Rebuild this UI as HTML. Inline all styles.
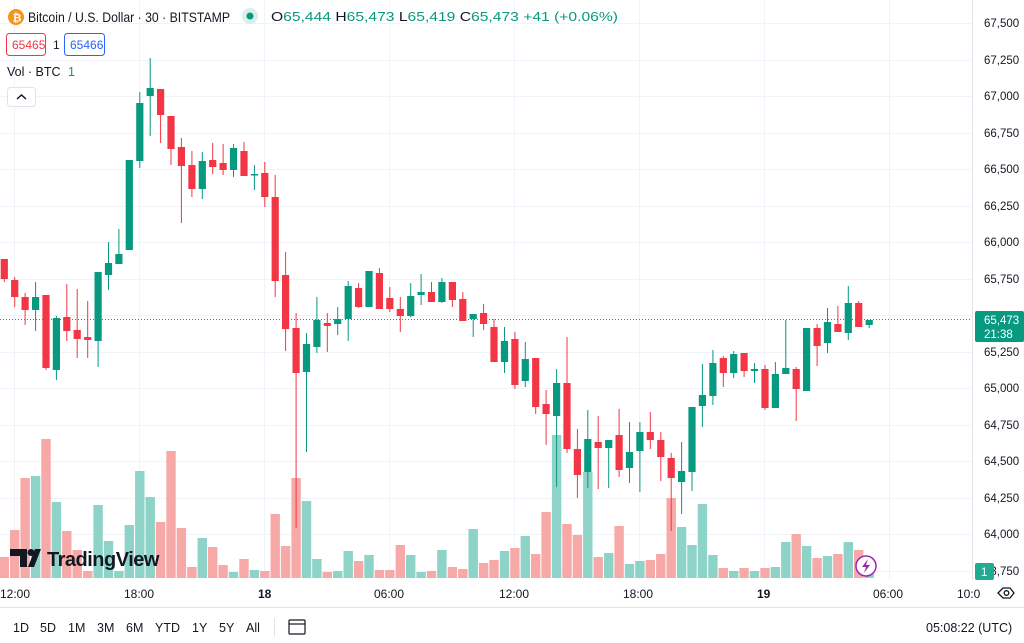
<!DOCTYPE html>
<html><head><meta charset="utf-8"><style>
body{margin:0;background:#fff;width:1024px;height:643px;overflow:hidden;font-family:"Liberation Sans",sans-serif;}
svg{position:absolute;left:0;top:0}
</style></head><body>
<svg id="s" width="1024" height="643" xmlns="http://www.w3.org/2000/svg" font-family="Liberation Sans, sans-serif">
<g id="grid" stroke="#f0f3fa" stroke-width="1"></g>
<g id="vol"></g>
<line x1="0" y1="319.5" x2="972" y2="319.5" stroke="#089981" stroke-width="1" stroke-dasharray="1,2"/>
<g id="cdl"></g>
<line x1="972.5" y1="0" x2="972.5" y2="580" stroke="#e0e3eb"/>
<g id="plab" font-size="11.5" fill="#131722"></g>
<rect x="975" y="311" width="49" height="31" rx="2" fill="#089981"/>
<text x="984" y="324" font-size="11.5" fill="#fff">65,473</text>
<text x="984" y="338" font-size="11.5" fill="#fff">21:38</text>
<rect x="975" y="563" width="19" height="17" rx="2" fill="#22ab94"/>
<text x="981" y="576" font-size="11.5" fill="#fff">1</text>
<!-- header -->
<circle cx="16" cy="17" r="8" fill="#f7931a"/>
<text x="12.5" y="21.5" font-size="11" font-weight="bold" fill="#fff">₿</text>
<text x="28" y="22" font-size="14" fill="#131722" textLength="202" lengthAdjust="spacingAndGlyphs">Bitcoin / U.S. Dollar · 30 · BITSTAMP</text>
<circle cx="250" cy="16" r="8" fill="#d6f0eb"/>
<circle cx="250" cy="16" r="3.5" fill="#089981"/>
<text x="271" y="21" font-size="12.5" fill="#131722" textLength="347" lengthAdjust="spacingAndGlyphs">O<tspan fill="#089981">65,444</tspan> H<tspan fill="#089981">65,473</tspan> L<tspan fill="#089981">65,419</tspan> C<tspan fill="#089981">65,473 +41 (+0.06%)</tspan></text>
<rect x="6.5" y="33.5" width="39" height="22" rx="3" fill="#fff" stroke="#f23645"/>
<text x="12" y="49" font-size="12" fill="#f23645">65465</text>
<text x="53" y="49" font-size="12" fill="#131722">1</text>
<rect x="64.5" y="33.5" width="40" height="22" rx="3" fill="#fff" stroke="#2962ff"/>
<text x="70" y="49" font-size="12" fill="#2962ff">65466</text>
<text x="7" y="76" font-size="12.5" fill="#131722">Vol · BTC <tspan fill="#089981" dx="4">1</tspan></text>
<rect x="7.5" y="87.5" width="28" height="19" rx="3" fill="#fff" stroke="#e0e3eb"/>
<path d="M17 99 L21.5 95 L26 99" fill="none" stroke="#131722" stroke-width="1.5"/>
<!-- logo -->
<path d="M10 549 H27 V567 H20 V556 H10Z" fill="#131722"/>
<circle cx="31" cy="552.5" r="3.5" fill="#131722"/>
<path d="M35 549 H41 L34 567 H28Z" fill="#131722"/>
<text x="47" y="566" font-size="20" font-weight="bold" fill="#131722" letter-spacing="-0.5">TradingView</text>
<circle cx="866" cy="566" r="10" fill="#fff" stroke="#9c27b0" stroke-width="1.5"/>
<path d="M868 559 L862 567 H866 L864 573 L870 565 H866Z" fill="#9c27b0"/>
<!-- time axis -->
<g font-size="12" fill="#131722">
<text x="0" y="598">12:00</text>
<text x="124" y="598">18:00</text>
<text x="258" y="598" font-weight="bold">18</text>
<text x="374" y="598">06:00</text>
<text x="499" y="598">12:00</text>
<text x="623" y="598">18:00</text>
<text x="757" y="598" font-weight="bold">19</text>
<text x="873" y="598">06:00</text>
<text x="957" y="598">10:0</text>
</g>
<path d="M998 593 L1003 588 H1010 L1014 593 L1010 598 H1003Z" fill="none" stroke="#131722" stroke-width="1.3"/>
<circle cx="1006.5" cy="593" r="2.3" fill="none" stroke="#131722" stroke-width="1.3"/>
<line x1="0" y1="607.5" x2="1024" y2="607.5" stroke="#e0e3eb"/>
<g font-size="12.5" fill="#131722">
<text x="13" y="632">1D</text><text x="40" y="632">5D</text><text x="68" y="632">1M</text><text x="97" y="632">3M</text><text x="126" y="632">6M</text><text x="155" y="632">YTD</text><text x="192" y="632">1Y</text><text x="219" y="632">5Y</text><text x="246" y="632">All</text>
<text x="926" y="632">05:08:22 (UTC)</text>
</g>
<line x1="274.5" y1="618" x2="274.5" y2="637" stroke="#e0e3eb"/>
<rect x="289" y="620" width="16" height="14" rx="1" fill="none" stroke="#131722" stroke-width="1.2"/>
<line x1="289" y1="624" x2="305" y2="624" stroke="#131722" stroke-width="1.2"/>
</svg>
<script>
const NS="http://www.w3.org/2000/svg";
function el(p,t,a){const e=document.createElementNS(NS,t);for(const k in a)e.setAttribute(k,a[k]);p.appendChild(e);return e;}
const g=document.getElementById('grid');
for(let k=0;k<=15;k++){const y=Math.round(23+k*36.53)+0.5;el(g,'line',{x1:0,x2:972,y1:y,y2:y});}
for(let k=0;k<8;k++){const x=14.5+k*125;el(g,'line',{x1:x,x2:x,y1:0,y2:580});}
const pl=document.getElementById('plab');
const prices=["67,500","67,250","67,000","66,750","66,500","66,250","66,000","65,750","65,500","65,250","65,000","64,750","64,500","64,250","64,000","63,750"];
prices.forEach((p,k)=>{if(k===8)return;const t=el(pl,'text',{x:984,y:Math.round(23+k*36.53)+4});t.textContent=p;});
const C=[[259,279,259,282,0],[280,297,277,307,0],[297,310,293,325,0],[297,310,282,331,1],[295,368,295,370,0],[318,370,316,380,1],[317,331,284,341,0],[330,339,289,358,0],[337,340,301,358,0],[272,341,272,367,1],
[263,275,242,290,1],[254,264,229,264,1],[160,250,160,250,1],[103,161,92,168,1],[88,96,58,136,1],[89,115,89,143,0],[116,149,116,165,0],[147,166,138,223,0],[165,189,151,197,0],[161,189,152,199,1],
[160,167,143,174,0],[163,170,144,175,0],[148,170,144,177,1],[151,176,142,176,0],[174,175,165,190,1],[173,197,162,207,0],[197,281,175,297,0],[275,329,252,351,0],[328,373,313,528,0],[344,372,333,452,1],
[320,347,297,353,1],[323,326,313,352,0],[319,324,307,335,1],[286,319,281,341,1],[288,307,283,308,0],[271,307,271,307,1],[273,309,268,309,0],[298,309,287,312,0],[309,316,297,332,0],[296,316,283,317,1],
[292,295,274,305,1],[292,302,282,302,0],[282,302,278,303,1],[282,300,282,307,0],[299,321,292,321,0],[314,319,314,337,1],[313,324,304,330,0],[327,362,319,362,0],[341,362,327,373,1],[339,385,332,389,0],
[359,381,342,387,1],[358,407,358,414,0],[404,414,390,445,0],[383,416,369,487,1],[383,449,337,453,0],[449,475,429,498,0],[439,472,410,488,1],[442,448,416,489,0],[440,448,440,488,1],[435,470,409,477,0],
[452,468,422,483,1],[432,451,422,492,1],[432,440,412,449,0],[440,457,432,481,0],[458,478,453,531,0],[471,482,442,514,1],[407,472,407,491,1],[395,406,364,427,1],[363,396,350,405,1],[358,373,356,387,0],
[354,373,351,378,1],[353,371,353,377,0],[369,371,363,383,1],[369,408,365,410,0],[374,408,362,408,1],[368,374,320,374,1],[369,389,367,421,0],[328,391,328,391,1],[328,346,324,366,0],[322,343,308,353,1],
[324,332,306,332,0],[303,333,286,340,1],[303,327,301,327,0],[320,325,320,328,1]];
const V=[[557,0],[530,0],[478,0],[476,1],[439,0],[502,1],[531,0],[550,0],[571,0],[505,1],[541,1],[571,1],[525,1],[471,1],[497,1],[522,0],[451,0],[528,0],[567,0],[538,1],[547,0],[565,0],[572,1],[559,0],[570,1],[571,0],[514,0],[546,0],[478,0],[501,1],[559,1],[572,0],
[571,1],[551,1],[561,0],[555,1],[570,0],[570,0],[545,0],[555,1],[572,1],[571,0],[550,1],[567,0],[569,0],[529,1],[563,0],[560,0],[551,1],[548,0],[536,1],[554,0],[512,0],[435,1],[524,0],[535,0],[472,1],[557,0],[553,1],[526,0],[564,1],[561,1],[560,0],[554,0],
[498,0],[527,1],[545,1],[504,1],[555,1],[568,0],[571,1],[568,0],[571,1],[568,0],[567,1],[542,1],[534,0],[546,1],[558,0],[556,1],[554,0],[542,1],[550,0],[572,1]];
const vg=document.getElementById('vol'),cg=document.getElementById('cdl');
const sp=10.42,x0=4.3;
V.forEach((v,i)=>{const x=x0+i*sp;el(vg,'rect',{x:(x-4.7).toFixed(1),y:v[0],width:9.4,height:578-v[0],fill:v[1]?'#8ed3c7':'#f7a9a7'});});
C.forEach((c,i)=>{const x=x0+i*sp;const col=c[4]?'#089981':'#f23645';
el(cg,'rect',{x:(x-0.5).toFixed(1),y:c[2],width:1,height:Math.max(1,c[3]-c[2]),fill:col});
el(cg,'rect',{x:(x-3.6).toFixed(1),y:c[0],width:7.2,height:Math.max(1.5,c[1]-c[0]),fill:col});});
</script>
</body></html>
